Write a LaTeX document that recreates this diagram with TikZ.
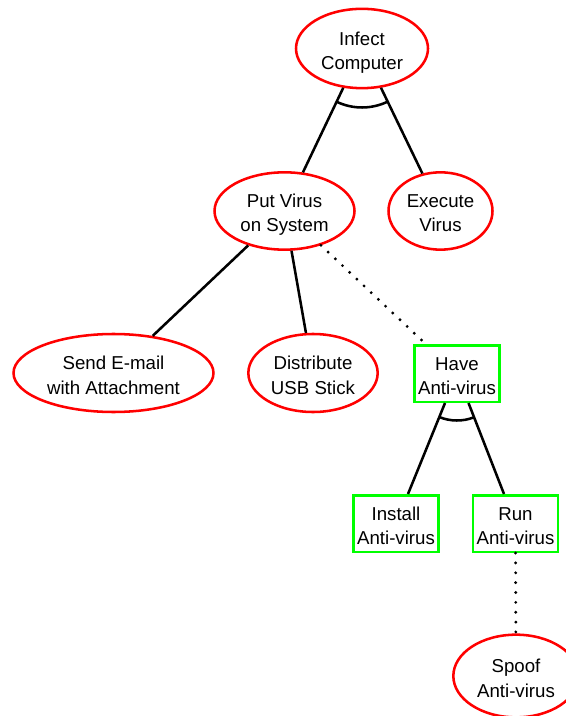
\documentclass[tikz,border=0pt]{standalone}
\usepackage{fontspec}
\setmainfont{Liberation Sans}
\usetikzlibrary{shapes.geometric,calc}
\begin{document}
\begin{tikzpicture}[x=0.75pt,y=0.75pt,
  every node/.style={font=\fontsize{14pt}{18.3pt}\selectfont, align=center, inner sep=0pt,
    text height=31.5pt, text depth=0pt},
  goal/.style={ellipse, draw=red, line width=1.9pt},
  defense/.style={rectangle, draw=green, line width=1.9pt, minimum width=64pt, minimum height=42.4pt},
  edge/.style={line width=1.9pt},
  counter/.style={line width=2.4pt, dash pattern=on 0pt off 7.4pt, line cap=round}]
\useasboundingbox (0,0) rectangle (566,-716);

\node[goal, minimum width=99pt, minimum height=59.5pt] (ic) at (362,-48.5) {Infect\\Computer};
\node[goal, minimum width=105pt, minimum height=58pt] (pv) at (284.5,-211) {Put Virus\\on System};
\node[goal, minimum width=78pt, minimum height=58pt] (ev) at (440.5,-211) {Execute\\Virus};
\node[goal, minimum width=150pt, minimum height=58.5pt] (se) at (113.5,-373) {Send E-mail\\with Attachment};
\node[goal, minimum width=97pt, minimum height=58.5pt] (du) at (313,-373) {Distribute\\USB Stick};
\node[defense] (ha) at (457,-373.5) {Have\\Anti-virus};
\node[defense] (ia) at (396,-523.5) {Install\\Anti-virus};
\node[defense] (ra) at (515.5,-523.5) {Run\\Anti-virus};
\node[goal, minimum width=94pt, minimum height=62pt] (sa) at (516,-676) {Spoof\\Anti-virus};

\draw[edge] (ic) -- (pv);
\draw[edge] (ic) -- (ev);
\draw[edge] (pv) -- (se);
\draw[edge] (pv) -- (du);
\draw[counter] (pv) -- (ha);
\draw[edge] (ha) -- (ia);
\draw[edge] (ha) -- (ra);
\draw[counter] (ra) -- (sa);

\draw[edge] let \p1=($(pv)-(ic)$), \p2=($(ev)-(ic)$),
  \n1={atan2(\y1,\x1)}, \n2={atan2(\y2,\x2)} in
  ($(ic.center)+(\n1:44.25pt)$) arc[start angle=\n1, end angle=\n2, radius=44.25pt];
\draw[edge] let \p1=($(ia)-(ha)$), \p2=($(ra)-(ha)$),
  \n1={atan2(\y1,\x1)}, \n2={atan2(\y2,\x2)} in
  ($(ha.center)+(\n1:35.25pt)$) arc[start angle=\n1, end angle=\n2, radius=35.25pt];
\end{tikzpicture}
\end{document}
